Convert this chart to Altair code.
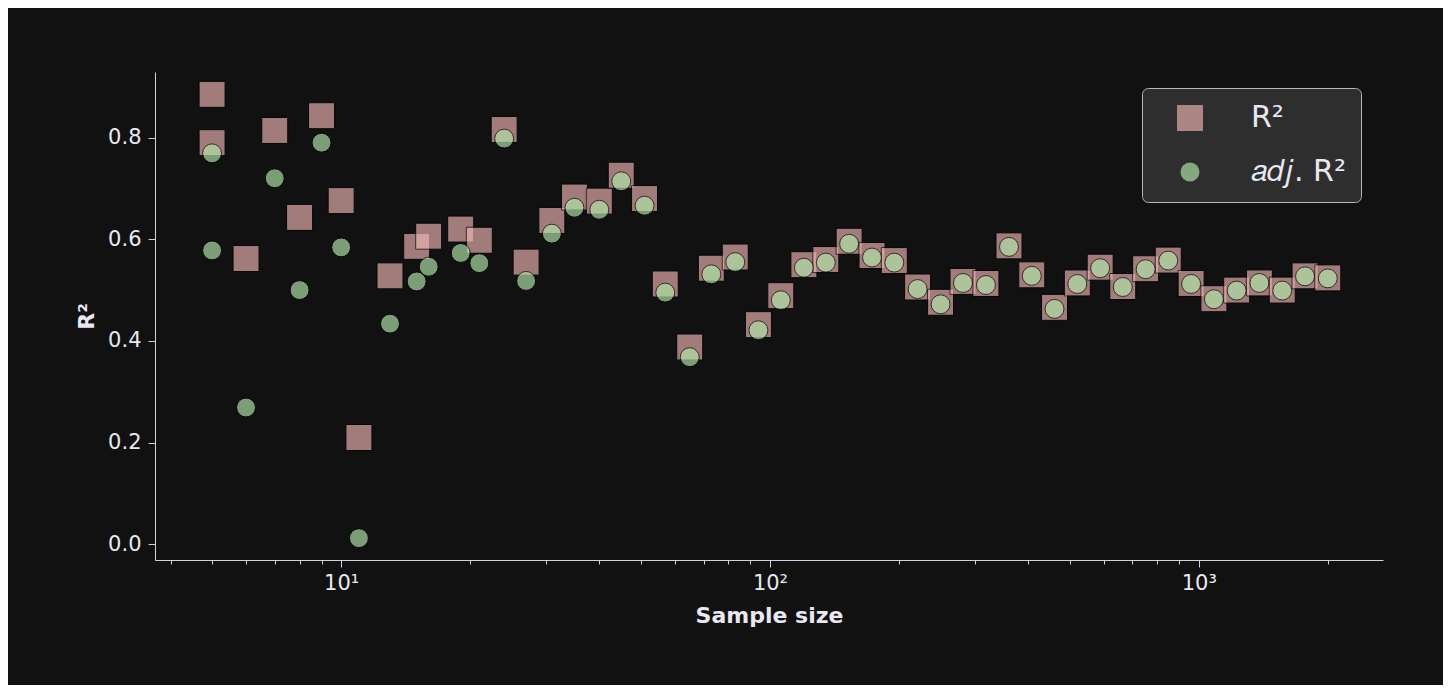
import altair as alt
import pandas as pd

# ---- data ----
sample_size = [5, 5, 6, 7, 8, 9, 10, 11, 13, 15, 16, 19, 21, 24, 27, 31, 35, 40, 45, 51,
               57, 65, 73, 83, 94, 106, 120, 135, 153, 173, 195, 221, 250, 282, 319, 361,
               408, 461, 521, 589, 665, 752, 849, 960, 1085, 1226, 1385, 1566, 1770, 2000]

r2 = [0.885, 0.790, 0.562, 0.814, 0.643, 0.843, 0.676, 0.210, 0.528, 0.586,
      0.606, 0.620, 0.598, 0.816, 0.555, 0.637, 0.683, 0.675, 0.726, 0.680,
      0.512, 0.388, 0.543, 0.565, 0.432, 0.489, 0.550, 0.560, 0.596, 0.568,
      0.558, 0.506, 0.476, 0.517, 0.513, 0.587, 0.530, 0.466, 0.514, 0.545,
      0.507, 0.542, 0.559, 0.513, 0.483, 0.500, 0.514, 0.500, 0.528, 0.524]

adj_r2 = [0.769, 0.578, 0.269, 0.720, 0.500, 0.790, 0.584, 0.012, 0.434, 0.517,
          0.546, 0.573, 0.553, 0.798, 0.518, 0.611, 0.662, 0.658, 0.714, 0.666,
          0.495, 0.368, 0.531, 0.555, 0.421, 0.480, 0.544, 0.554, 0.591, 0.564,
          0.554, 0.502, 0.472, 0.514, 0.510, 0.585, 0.528, 0.463, 0.512, 0.543,
          0.506, 0.541, 0.558, 0.512, 0.482, 0.499, 0.514, 0.499, 0.527, 0.523]

series_names = ["R²", "𝑎𝑑𝑗. R²"]
series_colors = ["#f0b4b4", "#b4eaac"]
series_shapes = ["square", "circle"]
series_sizes = [676, 360]

x_tick_values = [4, 5, 6, 7, 8, 9, 10, 20, 30, 40, 50, 60, 70, 80, 90, 100,
                 200, 300, 400, 500, 600, 700, 800, 900, 1000, 2000]
y_tick_values = [0.0, 0.2, 0.4, 0.6, 0.8]

df = pd.DataFrame({
    "n": sample_size + sample_size,
    "value": r2 + adj_r2,
    "series": [series_names[0]] * len(r2) + [series_names[1]] * len(adj_r2),
})

text_color = "#e8e8f2"
line_color = "#d0d0e0"

leg = alt.Legend(
    orient="none", legendX=987, legendY=16, title=None,
    fillColor="#2e2e2e", strokeColor="#b8b8b8", cornerRadius=6,
    padding=15, symbolOffset=18, labelOffset=46, rowPadding=24,
    labelFontSize=30, labelColor=text_color, labelFont="DejaVu Sans",
    symbolOpacity=0.65, symbolStrokeColor="black", symbolStrokeWidth=1,
)

chart = alt.Chart(df).mark_point(
    filled=True, opacity=0.65, stroke="black", strokeWidth=1
).encode(
    x=alt.X("n:Q", title="Sample size",
            scale=alt.Scale(type="log", domain=[3.68, 2690], nice=False),
            axis=alt.Axis(values=x_tick_values,
                          labelExpr="datum.value == 10 ? '10¹' : datum.value == 100 ? '10²' : datum.value == 1000 ? '10³' : ''",
                          tickSize={"condition": {"test": "datum.value == 10 || datum.value == 100 || datum.value == 1000", "value": 7}, "value": 4},
                          labelPadding=5, titlePadding=12, labelFlush=False)),
    y=alt.Y("value:Q", title="R²",
            scale=alt.Scale(domain=[-0.031, 0.929], nice=False, zero=False),
            axis=alt.Axis(values=y_tick_values, format=".1f", tickSize=7,
                          labelPadding=7, titlePadding=9)),
    shape=alt.Shape("series:N", scale=alt.Scale(domain=series_names, range=series_shapes), legend=leg),
    color=alt.Color("series:N", scale=alt.Scale(domain=series_names, range=series_colors), legend=leg),
    size=alt.Size("series:N", scale=alt.Scale(domain=series_names, range=series_sizes), legend=leg),
).properties(
    width=1228, height=488,
    autosize=alt.AutoSizeParams(type="none"),
    padding={"left": 147, "top": 64, "right": 60, "bottom": 125},
).configure(
    background="#111111", font="DejaVu Sans"
).configure_view(
    strokeWidth=0
).configure_axis(
    grid=False, domainColor=line_color, tickColor=line_color,
    labelColor=text_color, titleColor=text_color,
    labelFont="DejaVu Sans", titleFont="DejaVu Sans",
    labelFontSize=21, titleFontSize=22, titleFontWeight="bold",
    domainWidth=1, tickWidth=1,
)

chart.save("out.html", embed_options={"renderer": "svg", "actions": False})
